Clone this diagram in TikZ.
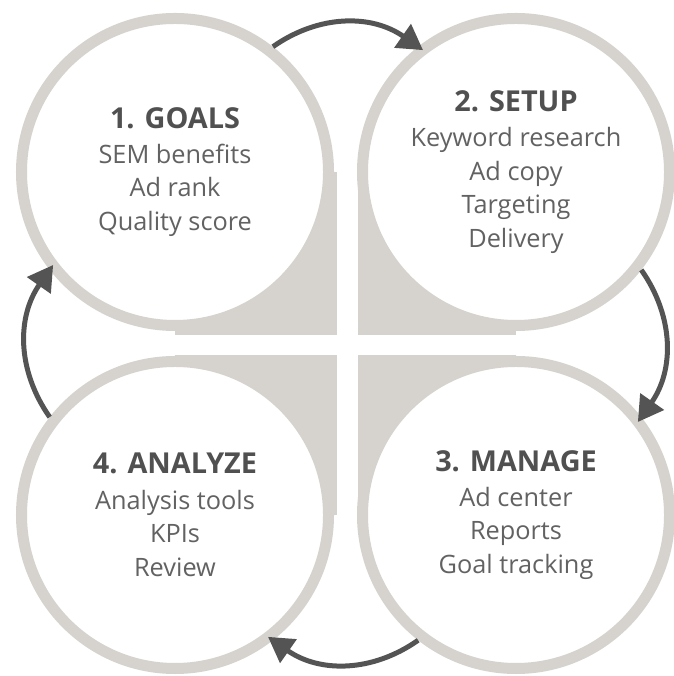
\documentclass[tikz,border=0pt]{standalone}
\usepackage{fontspec}
\setmainfont{Open Sans}
\usetikzlibrary{arrows.meta, positioning}
\definecolor{ringgrey}{RGB}{214,211,206}
\definecolor{arrowgrey}{RGB}{84,84,84}
\definecolor{titlegrey}{RGB}{80,80,80}
\definecolor{textgrey}{RGB}{98,98,98}
\tikzset{stage/.style={draw=ringgrey, fill=white, circle, line width=2.75mm, minimum size=76.75mm, inner sep=0pt, align=center, text=textgrey, font=\fontsize{18}{24}\selectfont}}
\tikzset{corner/.style={fill=ringgrey}}
\tikzset{cycle/.style={draw=arrowgrey, line width=1.25mm, shorten >=-1.5mm, -{Triangle[length=6.25mm, width=7mm]}}}
\newcommand{\stagetitle}[1]{{\fontsize{20.5}{24}\selectfont\bfseries\color{titlegrey}#1}\\[1pt]}

\begin{document}
\begin{tikzpicture}[x=0.25mm, y=0.25mm]
    \useasboundingbox (0,0) rectangle (673,676);

    \fill [corner] (175,341) rectangle (337,504);
    \fill [corner] (358,341) rectangle (516,504);
    \fill [corner] (358,161) rectangle (516,321);
    \fill [corner] (175,161) rectangle (337,321);

    \node [stage] (goals)   at (175,504) {\stagetitle{1. GOALS}SEM benefits\\Ad rank\\Quality score};
    \node [stage] (setup)   at (516,504) {\stagetitle{2. SETUP}Keyword research\\Ad copy\\Targeting\\Delivery};
    \node [stage] (manage)  at (516,161) {\stagetitle{3. MANAGE}Ad center\\Reports\\Goal tracking};
    \node [stage] (analyze) at (175,161) {\stagetitle{4. ANALYZE}Analysis tools\\KPIs\\Review};

    \draw [cycle] (goals.52)    to [bend left=35] (setup.128);
    \draw [cycle] (setup.-38)   to [bend left=35] (manage.38);
    \draw [cycle] (manage.-128) to [bend left=35] (analyze.-52);
    \draw [cycle] (analyze.142) to [bend left=35] (goals.-142);
\end{tikzpicture}
\end{document}
